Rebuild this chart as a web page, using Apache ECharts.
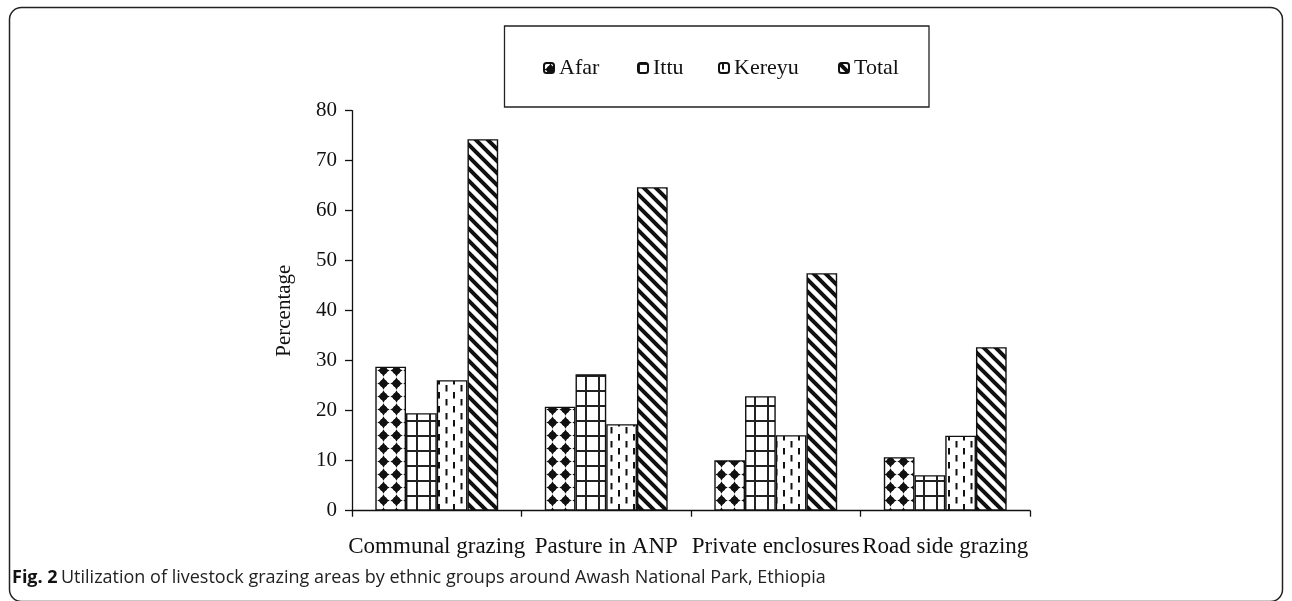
<!DOCTYPE html>
<html>
<head>
<meta charset="utf-8">
<script src="https://cdn.jsdelivr.net/npm/echarts@6/dist/echarts.min.js"></script>
<style>
html,body{margin:0;padding:0;background:#fff;}
#chart{width:1292px;height:601px;}
</style>
</head>
<body>
<div id="chart"></div>
<script>
// ---- data ----
const categories = ['Communal grazing', 'Pasture in ANP', 'Private enclosures', 'Road side grazing'];
const seriesNames = ['Afar', 'Ittu', 'Kereyu', 'Total'];
const afar   = [28.8, 20.8, 10.1, 10.7];
const ittu   = [19.5, 27.3, 22.9, 7.1];
const kereyu = [26.1, 17.3, 15.1, 15.0];
const total  = [74.3, 64.7, 47.5, 32.7];
const yTicks = [0, 10, 20, 30, 40, 50, 60, 70, 80];
const caption = 'Utilization of livestock grazing areas by ethnic groups around Awash National Park, Ethiopia';

// ---- patterns ----
function makeCanvas(w, h, draw) {
  const c = document.createElement('canvas');
  c.width = w; c.height = h;
  const ctx = c.getContext('2d');
  ctx.fillStyle = '#fff';
  ctx.fillRect(0, 0, w, h);
  draw(ctx, w, h);
  return c;
}
const afarPat = makeCanvas(13, 13, function (ctx) {
  ctx.fillStyle = '#111';
  const cx = 6.5, cy = 6.5, r = 6.2;
  ctx.beginPath();
  ctx.moveTo(cx, cy - r);
  ctx.quadraticCurveTo(cx + 1.8, cy - 1.8, cx + r, cy);
  ctx.quadraticCurveTo(cx + 1.8, cy + 1.8, cx, cy + r);
  ctx.quadraticCurveTo(cx - 1.8, cy + 1.8, cx - r, cy);
  ctx.quadraticCurveTo(cx - 1.8, cy - 1.8, cx, cy - r);
  ctx.fill();
  ctx.beginPath();
  ctx.arc(cx, cy, 3.8, 0, Math.PI * 2);
  ctx.fill();
});
const ittuPat = makeCanvas(13, 15, function (ctx, w, h) {
  ctx.fillStyle = '#222';
  ctx.fillRect(0, 0, 2, h);
  ctx.fillRect(0, 0, w, 2);
});
const kereyuPat = makeCanvas(15, 14, function (ctx) {
  ctx.fillStyle = '#111';
  ctx.fillRect(3, 0, 2, 6.5);
  ctx.fillRect(10.5, 7, 2, 6.5);
});
const totalPat = makeCanvas(12, 12, function (ctx) {
  ctx.strokeStyle = '#111';
  ctx.lineWidth = 4;
  ctx.beginPath();
  ctx.moveTo(-2, -2); ctx.lineTo(14, 14);
  ctx.moveTo(-14, -2); ctx.lineTo(2, 14);
  ctx.moveTo(10, -2); ctx.lineTo(26, 14);
  ctx.stroke();
});
const patterns = [afarPat, ittuPat, kereyuPat, totalPat];
const values = [afar, ittu, kereyu, total];

const serif = 'Liberation Serif';
const chart = echarts.init(document.getElementById('chart'), null, { renderer: 'canvas' });

const legendLefts = [543, 637, 718, 838];
const legends = seriesNames.map(function (n, i) {
  return {
    data: [n],
    left: legendLefts[i],
    top: 57,
    padding: 0,
    itemWidth: 10,
    itemHeight: 10,
    selectedMode: false,
    textStyle: { fontFamily: serif, fontSize: 22, color: '#111' }
  };
});

const series = seriesNames.map(function (n, i) {
  return {
    name: n,
    type: 'bar',
    data: values[i],
    barGap: '0%',
    barCategoryGap: '27.5%',
    itemStyle: {
      color: { image: patterns[i], repeat: 'repeat' },
      borderColor: '#111',
      borderWidth: 1.4
    },
    emphasis: { disabled: true }
  };
});

chart.setOption({
  animation: false,
  backgroundColor: '#fff',
  grid: { left: 352, right: 262, top: 110.7, bottom: 90.3, containLabel: false },
  legend: legends,
  xAxis: {
    type: 'category',
    data: categories,
    axisLine: { lineStyle: { color: '#111', width: 1.3 } },
    axisTick: { show: true, alignWithLabel: false, length: 6, lineStyle: { color: '#111', width: 1.3 } },
    axisLabel: { fontFamily: serif, fontSize: 23, color: '#111', margin: 25, interval: 0 }
  },
  yAxis: {
    type: 'value',
    min: 0, max: 80, interval: 10,
    name: 'Percentage',
    nameLocation: 'middle',
    nameRotate: 90,
    nameGap: 57,
    nameTextStyle: { fontFamily: serif, fontSize: 21, color: '#111' },
    axisLine: { show: true, lineStyle: { color: '#111', width: 1.3 } },
    axisTick: { show: true, length: 7, lineStyle: { color: '#111', width: 1.3 } },
    splitLine: { show: false },
    axisLabel: {
      fontFamily: serif, fontSize: 21, color: '#111', margin: 15,
      formatter: function (v) { return yTicks.indexOf(v) >= 0 ? String(v) : ''; }
    }
  },
  series: series,
  graphic: [
    {
      type: 'rect', silent: true, z: -1,
      shape: { x: 9.5, y: 7.5, width: 1273, height: 594, r: 12 },
      style: { fill: 'none', stroke: '#222', lineWidth: 1.5 }
    },
    {
      type: 'rect', silent: true,
      shape: { x: 504.5, y: 26, width: 424.5, height: 81 },
      style: { fill: 'none', stroke: '#222', lineWidth: 1.3 }
    },
    {
      type: 'text', silent: true,
      left: 12, top: 569,
      style: {
        rich: {
          b: { fontFamily: 'Open Sans', fontWeight: 'bold', fontSize: 18, fill: '#111' },
          n: { fontFamily: 'Open Sans', fontSize: 18, fill: '#222' }
        },
        text: '{b|Fig. 2} {n|' + caption + '}'
      }
    }
  ]
});
</script>
</body>
</html>
